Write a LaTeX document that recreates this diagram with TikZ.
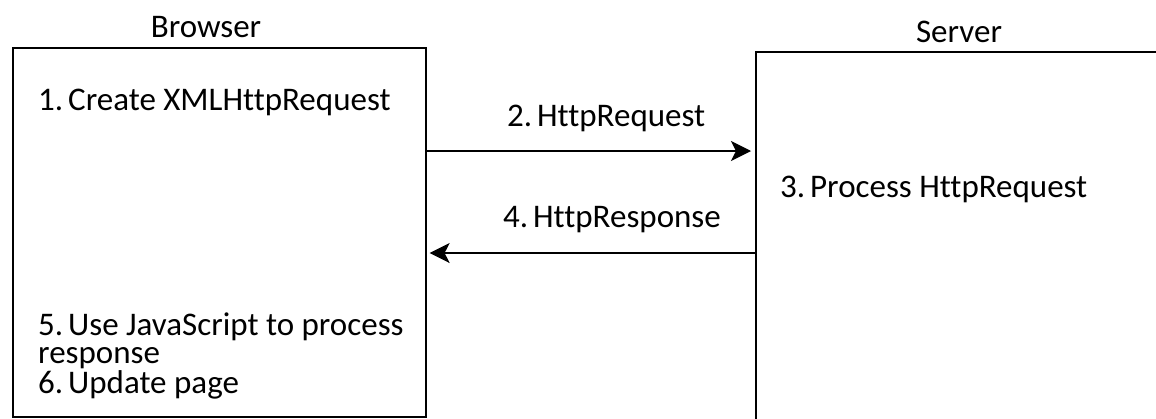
\documentclass[tikz,border=0pt]{standalone}
\usepackage{fontspec}
\setmainfont{Carlito}[RawFeature=-liga]
\usetikzlibrary{arrows.meta}
\begin{document}
\begin{tikzpicture}[x=1pt,y=-1pt,
  box/.style={draw=black,line width=1.6pt,rectangle,inner sep=0pt,anchor=north west},
  lbl/.style={inner sep=0pt,font=\fontsize{33}{28}\selectfont},
  arr/.style={draw=black,line width=1.6pt,-{Stealth[length=20pt,width=20pt,inset=5pt]}}]
\useasboundingbox (0,0) rectangle (1156,418);
\clip (0,0) rectangle (1156,418);
\fill[white] (0,0) rectangle (1156,418);
\node[box,minimum width=413pt,minimum height=369pt] (browser) at (12,47) {};
\node[box,minimum width=420pt,minimum height=380pt] (server) at (755,51) {};
\node[lbl,anchor=base] (tb) at (206,37) {Browser};
\node[lbl,anchor=base] (ts) at (959,42) {Server};
\node[lbl,anchor=base west] (t1) at (38,110) {1.\hspace{0.15em}Create XMLHttpRequest};
\node[lbl,anchor=base west] (t2) at (507,126) {2.\hspace{0.15em}HttpRequest};
\node[lbl,anchor=base west] (t3) at (780,197) {3.\hspace{0.15em}Process HttpRequest};
\node[lbl,anchor=base west] (t4) at (503,227) {4.\hspace{0.15em}HttpResponse};
\node[lbl,anchor=north west,align=left] (t5) at (38,313) {5.\hspace{0.15em}Use JavaScript to process\\response\\6.\hspace{0.15em}Update page};
\draw[arr,shorten >=4pt] (browser.east |- 0,151) -- (server.west |- 0,151);
\draw[arr,shorten >=3pt] (server.west |- 0,253) -- (browser.east |- 0,253);
\end{tikzpicture}
\end{document}
